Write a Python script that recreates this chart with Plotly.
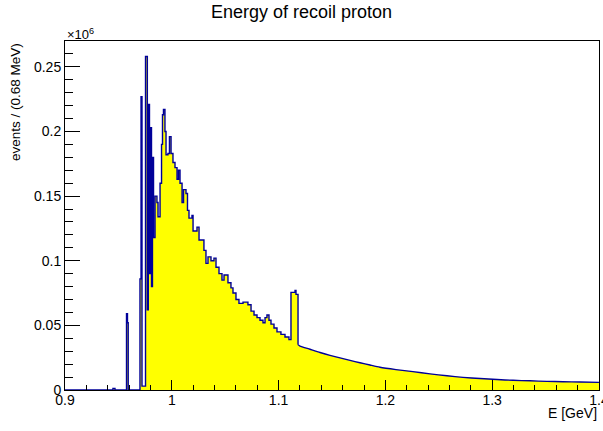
import plotly.graph_objects as go

# Histogram bin left edges (GeV) and contents (units of 10^6 events), peak region
bin_edges = [
    0.9000, 0.9449, 0.9468, 0.9576, 0.9585, 0.9592, 0.9702, 0.9712, 0.9721,
    0.9754, 0.9764, 0.9771, 0.9780, 0.9791, 0.9801, 0.9810, 0.9819, 0.9829,
    0.9843, 0.9861, 0.9871, 0.9890, 0.9904, 0.9913, 0.9922, 0.9936, 0.9946,
    0.9964, 0.9978, 0.9993, 1.0011, 1.0030, 1.0049, 1.0063, 1.0077, 1.0096,
    1.0110, 1.0133, 1.0147, 1.0161, 1.0189, 1.0199, 1.0236, 1.0255, 1.0301,
    1.0320, 1.0339, 1.0367, 1.0395, 1.0414, 1.0442, 1.0470, 1.0489, 1.0526,
    1.0554, 1.0573, 1.0601, 1.0629, 1.0667, 1.0695, 1.0713, 1.0742, 1.0770,
    1.0798, 1.0826, 1.0854, 1.0873, 1.0891, 1.0910, 1.0929, 1.0957, 1.0985,
    1.1022, 1.1060, 1.1097, 1.1116, 1.1154, 1.1163, 1.1182,
]
bin_counts = [
    0.0, 0.0012, 0.0, 0.059, 0.052, 0.0, 0.086, 0.227, 0.003,
    0.258, 0.258, 0.062, 0.221, 0.090, 0.203, 0.080, 0.180, 0.118,
    0.150, 0.145, 0.134, 0.160, 0.190, 0.213, 0.217, 0.200, 0.182,
    0.183, 0.196, 0.183, 0.176, 0.172, 0.163, 0.170, 0.160, 0.145,
    0.155, 0.152, 0.139, 0.133, 0.135, 0.123, 0.126, 0.116, 0.108,
    0.098, 0.103, 0.100, 0.102, 0.095, 0.090, 0.085, 0.089, 0.083,
    0.079, 0.075, 0.070, 0.067, 0.068, 0.068, 0.066, 0.061, 0.058,
    0.056, 0.054, 0.052, 0.056, 0.058, 0.054, 0.051, 0.048, 0.045,
    0.043, 0.041, 0.039, 0.0755, 0.077, 0.074, 0.035,
]

# Smooth tail (GeV, units of 10^6 events)
tail_energy = [
    1.1182, 1.1200, 1.1294, 1.1388, 1.1481, 1.1575, 1.1669, 1.1762, 1.1856,
    1.1949, 1.2099, 1.2258, 1.2418, 1.2577, 1.2727, 1.2886, 1.3045, 1.3195,
    1.3354, 1.3513, 1.3663, 1.3822, 1.4000,
]
tail_counts = [
    0.0350, 0.0340, 0.0315, 0.0290, 0.0268, 0.0248, 0.0229, 0.0211, 0.0193,
    0.0176, 0.0158, 0.0142, 0.0125, 0.0110, 0.0098, 0.0089, 0.0081, 0.0075,
    0.0071, 0.0067, 0.0064, 0.0062, 0.0059,
]

x_ticks = [0.9, 1.0, 1.1, 1.2, 1.3, 1.4]
x_tick_labels = ["0.9", "1", "1.1", "1.2", "1.3", "1.4"]
y_ticks = [0, 0.05, 0.1, 0.15, 0.2, 0.25]
y_tick_labels = ["0", "0.05", "0.1", "0.15", "0.2", "0.25"]

FONT = "Liberation Sans, Arial, Helvetica, sans-serif"
LINE = "#000099"
FILL = "#ffff00"

xs = bin_edges + [tail_energy[0]]
ys = bin_counts + [bin_counts[-1]]

fig = go.Figure()
fig.add_trace(go.Scatter(
    x=xs, y=ys, mode="lines", line_shape="hv",
    line=dict(color=LINE, width=1.4),
    fill="tozeroy", fillcolor=FILL,
    hoverinfo="skip", showlegend=False,
))
fig.add_trace(go.Scatter(
    x=tail_energy, y=tail_counts, mode="lines", line_shape="spline",
    line=dict(color=LINE, width=1.4, smoothing=0.6),
    fill="tozeroy", fillcolor=FILL,
    hoverinfo="skip", showlegend=False,
))

fig.update_layout(
    width=603, height=431,
    margin=dict(l=65, r=4, t=41, b=41, autoexpand=False),
    paper_bgcolor="white", plot_bgcolor="white",
    font=dict(family=FONT, color="black", size=14),
    title=dict(text="Energy of recoil proton", x=0.5, xanchor="center",
               y=1 - 12 / 431, yanchor="middle",
               font=dict(size=18, family=FONT)),
    xaxis=dict(
        range=[0.9, 1.40002], tickvals=x_ticks, ticktext=x_tick_labels,
        ticks="inside", ticklen=10, tickwidth=1, tickcolor="black",
        showline=True, linecolor="black", linewidth=1, mirror=True,
        showgrid=False, zeroline=False, automargin=False,
        minor=dict(dtick=0.02, ticks="inside", ticklen=5, tickcolor="black", showgrid=False),
        tickfont=dict(size=14), ticklabelstandoff=-3, ticklabeloverflow="allow",
    ),
    yaxis=dict(
        range=[0, 0.27], tickvals=y_ticks, ticktext=y_tick_labels,
        ticks="inside", ticklen=15, tickwidth=1, tickcolor="black",
        showline=True, linecolor="black", linewidth=1, mirror=True,
        showgrid=False, zeroline=False, automargin=False,
        minor=dict(dtick=0.01, ticks="inside", ticklen=8, tickcolor="black", showgrid=False),
        tickfont=dict(size=14),
    ),
)

fig.add_annotation(text="events / (0.68 MeV)", xref="paper", yref="paper",
                   x=-50 / 534, y=1.0, xanchor="center", yanchor="top",
                   textangle=-90, showarrow=False, font=dict(size=13.5, family=FONT))
fig.add_annotation(text="E [GeV]", xref="paper", yref="paper",
                   x=1.0, y=-23 / 349, xanchor="right", yanchor="middle",
                   showarrow=False, font=dict(size=14, family=FONT))
fig.add_annotation(text="×10<sup>6</sup>", xref="paper", yref="paper",
                   x=0.0, y=1.0, xanchor="left", yanchor="bottom",
                   showarrow=False, font=dict(size=13, family=FONT), yshift=-3)

fig.write_html("out.html")
